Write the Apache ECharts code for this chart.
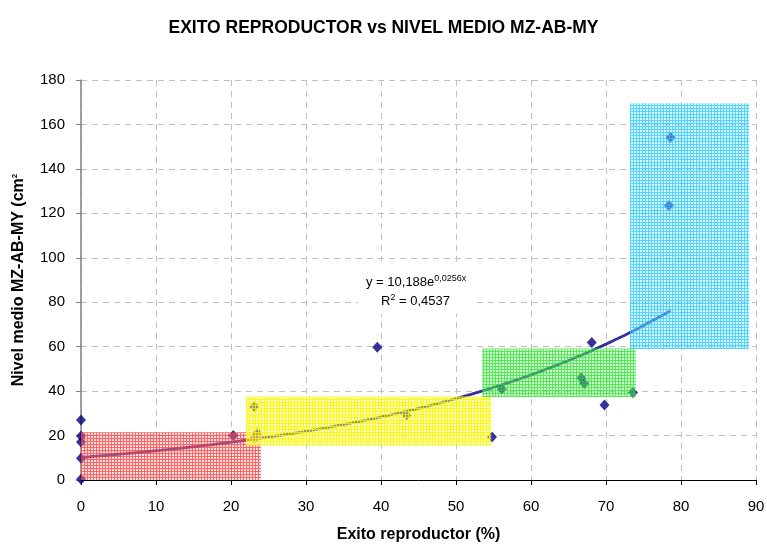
<!DOCTYPE html>
<html>
<head>
<meta charset="utf-8">
<script src="https://cdn.jsdelivr.net/npm/echarts@6/dist/echarts.min.js"></script>
<style>
  html, body { margin: 0; padding: 0; background: #fff; }
  #chart { width: 767px; height: 546px; }
</style>
</head>
<body>
<div id="chart"></div>
<script>
// Reproductive success (%) against mean level MZ-AB-MY
const exito = [0, 0, 0, 0, 0, 20.3, 23.1, 23.2, 23.5, 39.5, 43.4, 54.8, 56.1, 66.7, 67.1, 68.1, 69.8, 73.6, 78.4, 78.6];
const nivel = [27, 19.8, 17.1, 9.8, 0.3, 20, 33, 19, 20.9, 59.7, 29.3, 19.4, 40.9, 45.9, 43.4, 61.9, 33.8, 39.4, 123.5, 154.1];

// Exponential trend fit: y = a * e^(b x)
const fitA = 10.188;
const fitB = 0.0256;
const fitR2 = '0,4537';
const fitFrom = 0;
const fitTo = 78.6;

// Shaded groups: [xMin, xMax, yMin, yMax]
const zoneRed = [0, 24, 0, 21.5];
const zoneYellow = [22, 54.7, 15.5, 37.6];
const zoneGreen = [53.5, 74, 37.4, 59.2];
const zoneCyan = [73.2, 89.1, 59, 169.5];

const xTicks = [0, 10, 20, 30, 40, 50, 60, 70, 80, 90];
const yTicks = [0, 20, 40, 60, 80, 100, 120, 140, 160, 180];

const points = exito.map((x, i) => [x, nivel[i]]);
const trend = [];
for (let x = fitFrom; x <= fitTo + 1e-9; x += 0.5) {
  trend.push([x, fitA * Math.exp(fitB * x)]);
}
trend.push([fitTo, fitA * Math.exp(fitB * fitTo)]);

// small grid-paper tiles used as area fills
function gridTile(bg, line) {
  const c = document.createElement('canvas');
  c.width = 3; c.height = 3;
  const g = c.getContext('2d');
  g.fillStyle = bg;
  g.fillRect(1, 1, 2, 2);
  g.fillStyle = line;
  g.fillRect(0, 0, 3, 1);
  g.fillRect(0, 1, 1, 2);
  return c;
}

const zones = [
  { r: zoneRed, tile: gridTile('rgba(255,170,170,0.35)', 'rgba(255,60,60,0.8)') },
  { r: zoneYellow, tile: gridTile('rgba(255,255,120,0.45)', 'rgba(250,250,0,0.9)') },
  { r: zoneGreen, tile: gridTile('rgba(140,255,140,0.35)', 'rgba(40,230,40,0.8)') },
  { r: zoneCyan, tile: gridTile('rgba(160,235,255,0.4)', 'rgba(40,200,255,0.8)') }
];

const chart = echarts.init(document.getElementById('chart'), null, { renderer: 'canvas' });

const font = 'Arial, "Liberation Sans", sans-serif';
const supStyle = { fontSize: 9, fontFamily: font, verticalAlign: 'top', padding: [0, 0, 8, 0] };

chart.setOption({
  backgroundColor: '#fff',
  animation: false,
  title: {
    text: 'EXITO REPRODUCTOR vs NIVEL MEDIO MZ-AB-MY',
    left: 'center',
    top: 14,
    textStyle: { fontFamily: font, fontSize: 17.5, fontWeight: 'bold', color: '#000' }
  },
  grid: { left: 81, right: 11, top: 80, bottom: 66, containLabel: false, outerBoundsMode: 'none' },
  xAxis: {
    type: 'value',
    min: xTicks[0],
    max: xTicks[xTicks.length - 1],
    interval: 10,
    name: 'Exito reproductor (%)',
    nameLocation: 'middle',
    nameGap: 47,
    nameTextStyle: { fontFamily: font, fontSize: 16, fontWeight: 'bold', color: '#000' },
    axisLine: { show: true, onZero: false, lineStyle: { color: '#000', width: 1 } },
    axisTick: { show: true, length: 5, lineStyle: { color: '#000' } },
    axisLabel: { fontFamily: font, fontSize: 15, color: '#000', margin: 19 },
    splitLine: { show: true, lineStyle: { color: '#c0c0c0', type: [6, 5], width: 1 } }
  },
  yAxis: {
    type: 'value',
    min: yTicks[0],
    max: yTicks[yTicks.length - 1],
    interval: 20,
    name: 'Nivel medio MZ-AB-MY (cm{sup|2}',
    nameLocation: 'middle',
    nameGap: 54,
    nameTextStyle: {
      fontFamily: font, fontSize: 16, fontWeight: 'bold', color: '#000',
      rich: { sup: { fontFamily: font, fontSize: 8, fontWeight: 'bold', verticalAlign: 'top', padding: [0, 0, 8, 0] } }
    },
    axisLine: { show: true, onZero: false, lineStyle: { color: '#808080', width: 1.5 } },
    axisTick: { show: true, length: 5, lineStyle: { color: '#808080' } },
    axisLabel: { fontFamily: font, fontSize: 15, color: '#000', margin: 16 },
    splitLine: { show: true, lineStyle: { color: '#c0c0c0', type: [6, 5], width: 1 } }
  },
  series: [
    {
      type: 'scatter',
      data: points,
      symbol: 'diamond',
      symbolSize: [10, 11],
      itemStyle: { color: '#000080' },
      z: 3
    },
    {
      type: 'line',
      data: trend,
      showSymbol: false,
      smooth: false,
      lineStyle: { color: '#333399', width: 2.8 },
      z: 4
    },
    {
      type: 'custom',
      data: zones.map((z, i) => [i]),
      z: 6,
      silent: true,
      renderItem: function (params, api) {
        const z = zones[api.value(0)];
        const p0 = api.coord([z.r[0], z.r[3]]);
        const p1 = api.coord([z.r[1], z.r[2]]);
        return {
          type: 'rect',
          shape: { x: p0[0], y: p0[1], width: p1[0] - p0[0], height: p1[1] - p0[1] },
          style: { fill: { image: z.tile, repeat: 'repeat' }, stroke: null }
        };
      }
    }
  ],
  graphic: [
    // trend equation label on an opaque box
    {
      type: 'rect',
      z: 100,
      silent: true,
      shape: { x: 358, y: 264, width: 118, height: 50 },
      style: { fill: '#fff' }
    },
    {
      type: 'text',
      z: 101,
      x: 366,
      y: 274,
      style: {
        text: 'y = 10,188e{sup|0,0256x}',
        font: '13px ' + font,
        fill: '#000',
        rich: { sup: supStyle }
      }
    },
    {
      type: 'text',
      z: 101,
      x: 381,
      y: 293,
      style: {
        text: 'R{sup|2} = ' + fitR2,
        font: '13px ' + font,
        fill: '#000',
        rich: { sup: supStyle }
      }
    }
  ]
});
</script>
</body>
</html>
